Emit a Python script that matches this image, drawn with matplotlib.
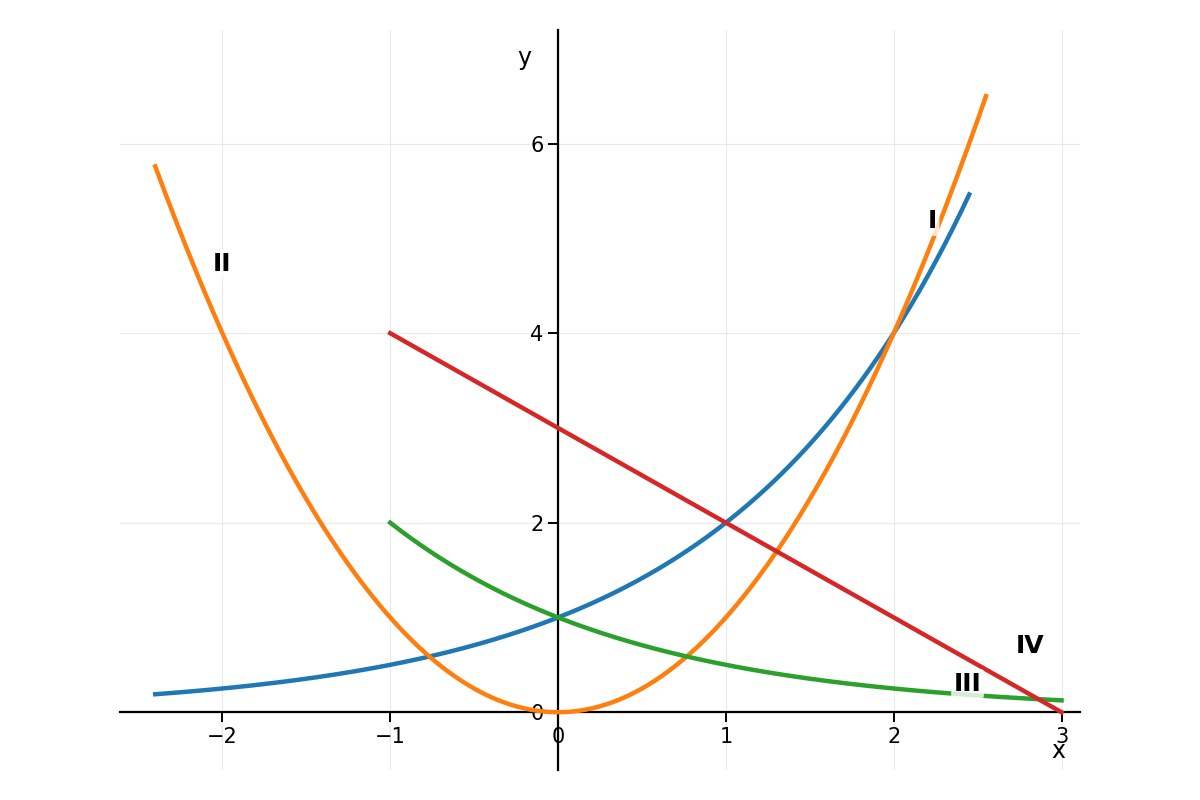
import numpy as np
import matplotlib
matplotlib.use("Agg")
import matplotlib.pyplot as plt

# Curve definitions (domains)
blue_range = (-2.4, 2.45)     # I: y = 2^x
orange_range = (-2.4, 2.55)   # II: y = x^2
green_range = (-1.0, 3.0)     # III: y = (1/2)^x
red_range = (-1.0, 3.0)       # IV: y = 3 - x

labels = ["I", "II", "III", "IV"]
label_x = [2.23, -2.0, 2.44, 2.81]
label_y = [5.18, 4.73, 0.3, 0.7]

xticks = [-2, -1, 0, 1, 2, 3]
yticks = [0, 2, 4, 6]

fig = plt.figure(figsize=(12, 8), dpi=100)
ax = fig.add_axes([0.1, 0.0375, 0.8, 0.925])

lw = 3.2
x1 = np.linspace(*blue_range, 400)
ax.plot(x1, 2.0 ** x1, color="#1f77b4", lw=lw, zorder=3)
x2 = np.linspace(*orange_range, 400)
ax.plot(x2, x2 ** 2, color="#ff7f0e", lw=lw, zorder=3)
x3 = np.linspace(*green_range, 400)
ax.plot(x3, 0.5 ** x3, color="#2ca02c", lw=lw, zorder=3)
x4 = np.linspace(*red_range, 400)
ax.plot(x4, 3 - x4, color="#d62728", lw=lw, zorder=3)

for t, lx, ly in zip(labels, label_x, label_y):
    ax.text(lx, ly, t, fontsize=18, fontweight="bold", ha="center", va="center",
            zorder=4, bbox=dict(boxstyle="round,pad=0.1", fc="white", ec="none", alpha=0.8))

ax.set_xlim(-2.61, 3.11)
ax.set_ylim(-0.61, 7.2)

ax.spines["left"].set_position(("data", 0))
ax.spines["bottom"].set_position(("data", 0))
ax.spines["right"].set_visible(False)
ax.spines["top"].set_visible(False)
ax.spines["left"].set_linewidth(1.6)
ax.spines["bottom"].set_linewidth(1.6)

ax.set_xticks(xticks)
ax.set_yticks(yticks)
ax.tick_params(labelsize=15, length=7, width=1.4)
ax.grid(True, color="#dddddd", alpha=0.6, lw=0.8)

ax.text(2.98, -0.41, "x", fontsize=17, ha="center", va="center")
ax.text(-0.2, 6.9, "y", fontsize=17, ha="center", va="center")

fig.savefig("out.png", dpi=100)
